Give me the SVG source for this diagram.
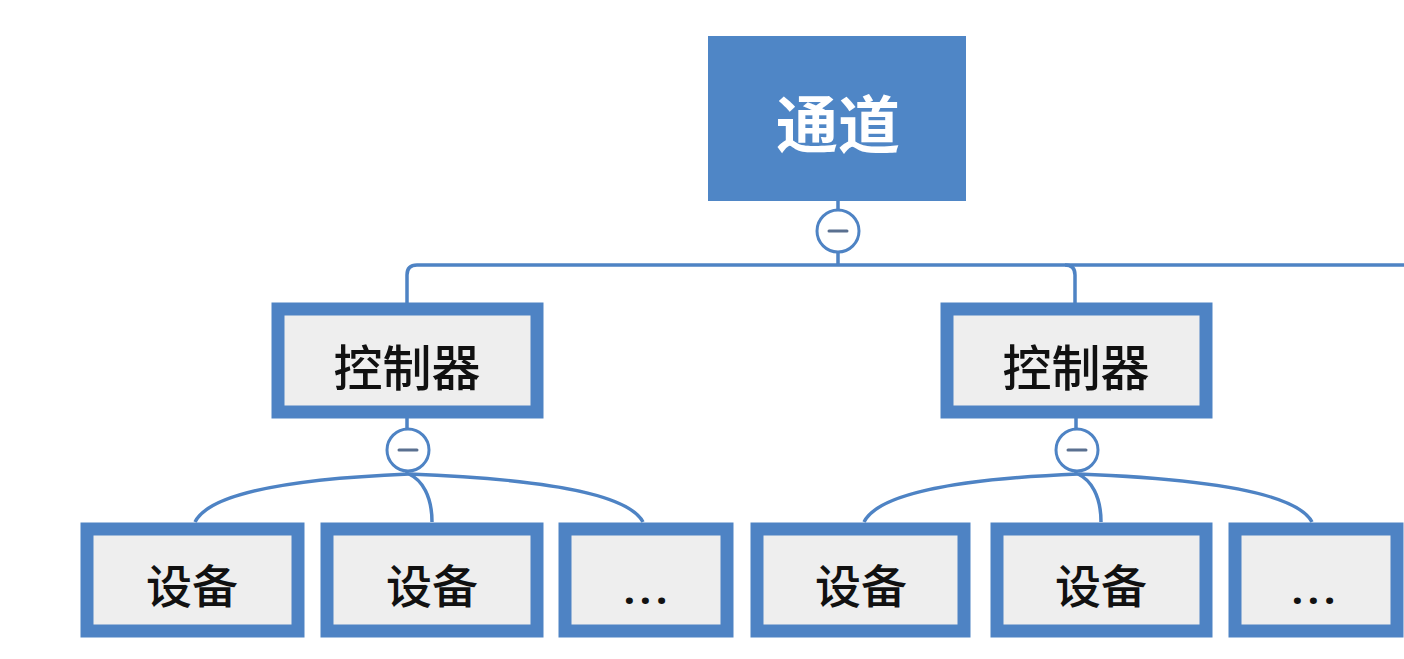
<svg xmlns="http://www.w3.org/2000/svg" width="1404" height="659" viewBox="0 0 1404 659">
<style>
.box{fill:#EEEEEE;stroke:#4E83C4;stroke-width:13}
.lbl{font-family:"Noto Sans CJK SC","Noto Sans",sans-serif;font-weight:500;fill:#111;text-anchor:middle;dominant-baseline:central}
.dots{font-family:"Noto Sans",sans-serif;font-weight:700;fill:#111;text-anchor:middle;font-size:40px;letter-spacing:5px}
.conn{fill:none;stroke:#4E83C4;stroke-width:3.5}
.tog{fill:#FFFFFF;stroke:#4E83C4;stroke-width:3}
.minus{stroke:#5A7090;stroke-width:3;stroke-linecap:round}
</style>
<rect width="1404" height="659" fill="#FFFFFF"/>
<g id="connectors">
<path class="conn" d="M838,201 V210 M838,252 V265"/>
<path class="conn" d="M407,303 V275 Q407,265 417,265 H1404"/>
<path class="conn" d="M1065,265 Q1075,265 1075,275 V303"/>
<path class="conn" d="M407,418 V429 M407,471 V474"/>
<path class="conn" d="M409,474 Q215,482 195,522"/>
<path class="conn" d="M409,474 C422,480 432,496 432,522"/>
<path class="conn" d="M409,474 Q622,482 643,522"/>
<path class="conn" d="M1076,418 V429 M1076,471 V474"/>
<path class="conn" d="M1078,474 Q884,482 864,522"/>
<path class="conn" d="M1078,474 C1091,480 1101,496 1101,522"/>
<path class="conn" d="M1078,474 Q1291,482 1312,522"/>
</g>
<g id="toggle-root">
<circle class="tog" cx="838" cy="231" r="21"/>
<line class="minus" x1="829" y1="231" x2="847" y2="231"/>
</g>
<g id="toggle-ctrl1">
<circle class="tog" cx="408" cy="450" r="21"/>
<line class="minus" x1="399" y1="450" x2="417" y2="450"/>
</g>
<g id="toggle-ctrl2">
<circle class="tog" cx="1077" cy="450" r="21"/>
<line class="minus" x1="1068" y1="450" x2="1086" y2="450"/>
</g>
<g id="channel">
<rect x="708" y="36" width="258" height="165" fill="#4F86C6"/>
<text x="838" y="121" class="lbl" style="fill:#FFFFFF;font-weight:700;font-size:62px">通道</text>
</g>
<g id="controller1">
<rect class="box" x="278" y="309" width="259" height="103"/>
<text x="407" y="364" class="lbl" font-size="49">控制器</text>
</g>
<g id="controller2">
<rect class="box" x="947" y="309" width="259" height="103"/>
<text x="1076" y="364" class="lbl" font-size="49">控制器</text>
</g>
<g id="device1">
<rect class="box" x="87" y="529" width="211" height="102"/>
<text x="192" y="583" class="lbl" font-size="46">设备</text>
</g>
<g id="device2">
<rect class="box" x="327" y="529" width="210" height="102"/>
<text x="432" y="583" class="lbl" font-size="46">设备</text>
</g>
<g id="device3">
<rect class="box" x="565" y="529" width="162" height="102"/>
<text x="648" y="604" class="dots">...</text>
</g>
<g id="device4">
<rect class="box" x="757" y="529" width="207" height="102"/>
<text x="861" y="583" class="lbl" font-size="46">设备</text>
</g>
<g id="device5">
<rect class="box" x="997" y="529" width="209" height="102"/>
<text x="1101" y="583" class="lbl" font-size="46">设备</text>
</g>
<g id="device6">
<rect class="box" x="1235" y="529" width="162" height="102"/>
<text x="1316" y="604" class="dots">...</text>
</g>
</svg>
